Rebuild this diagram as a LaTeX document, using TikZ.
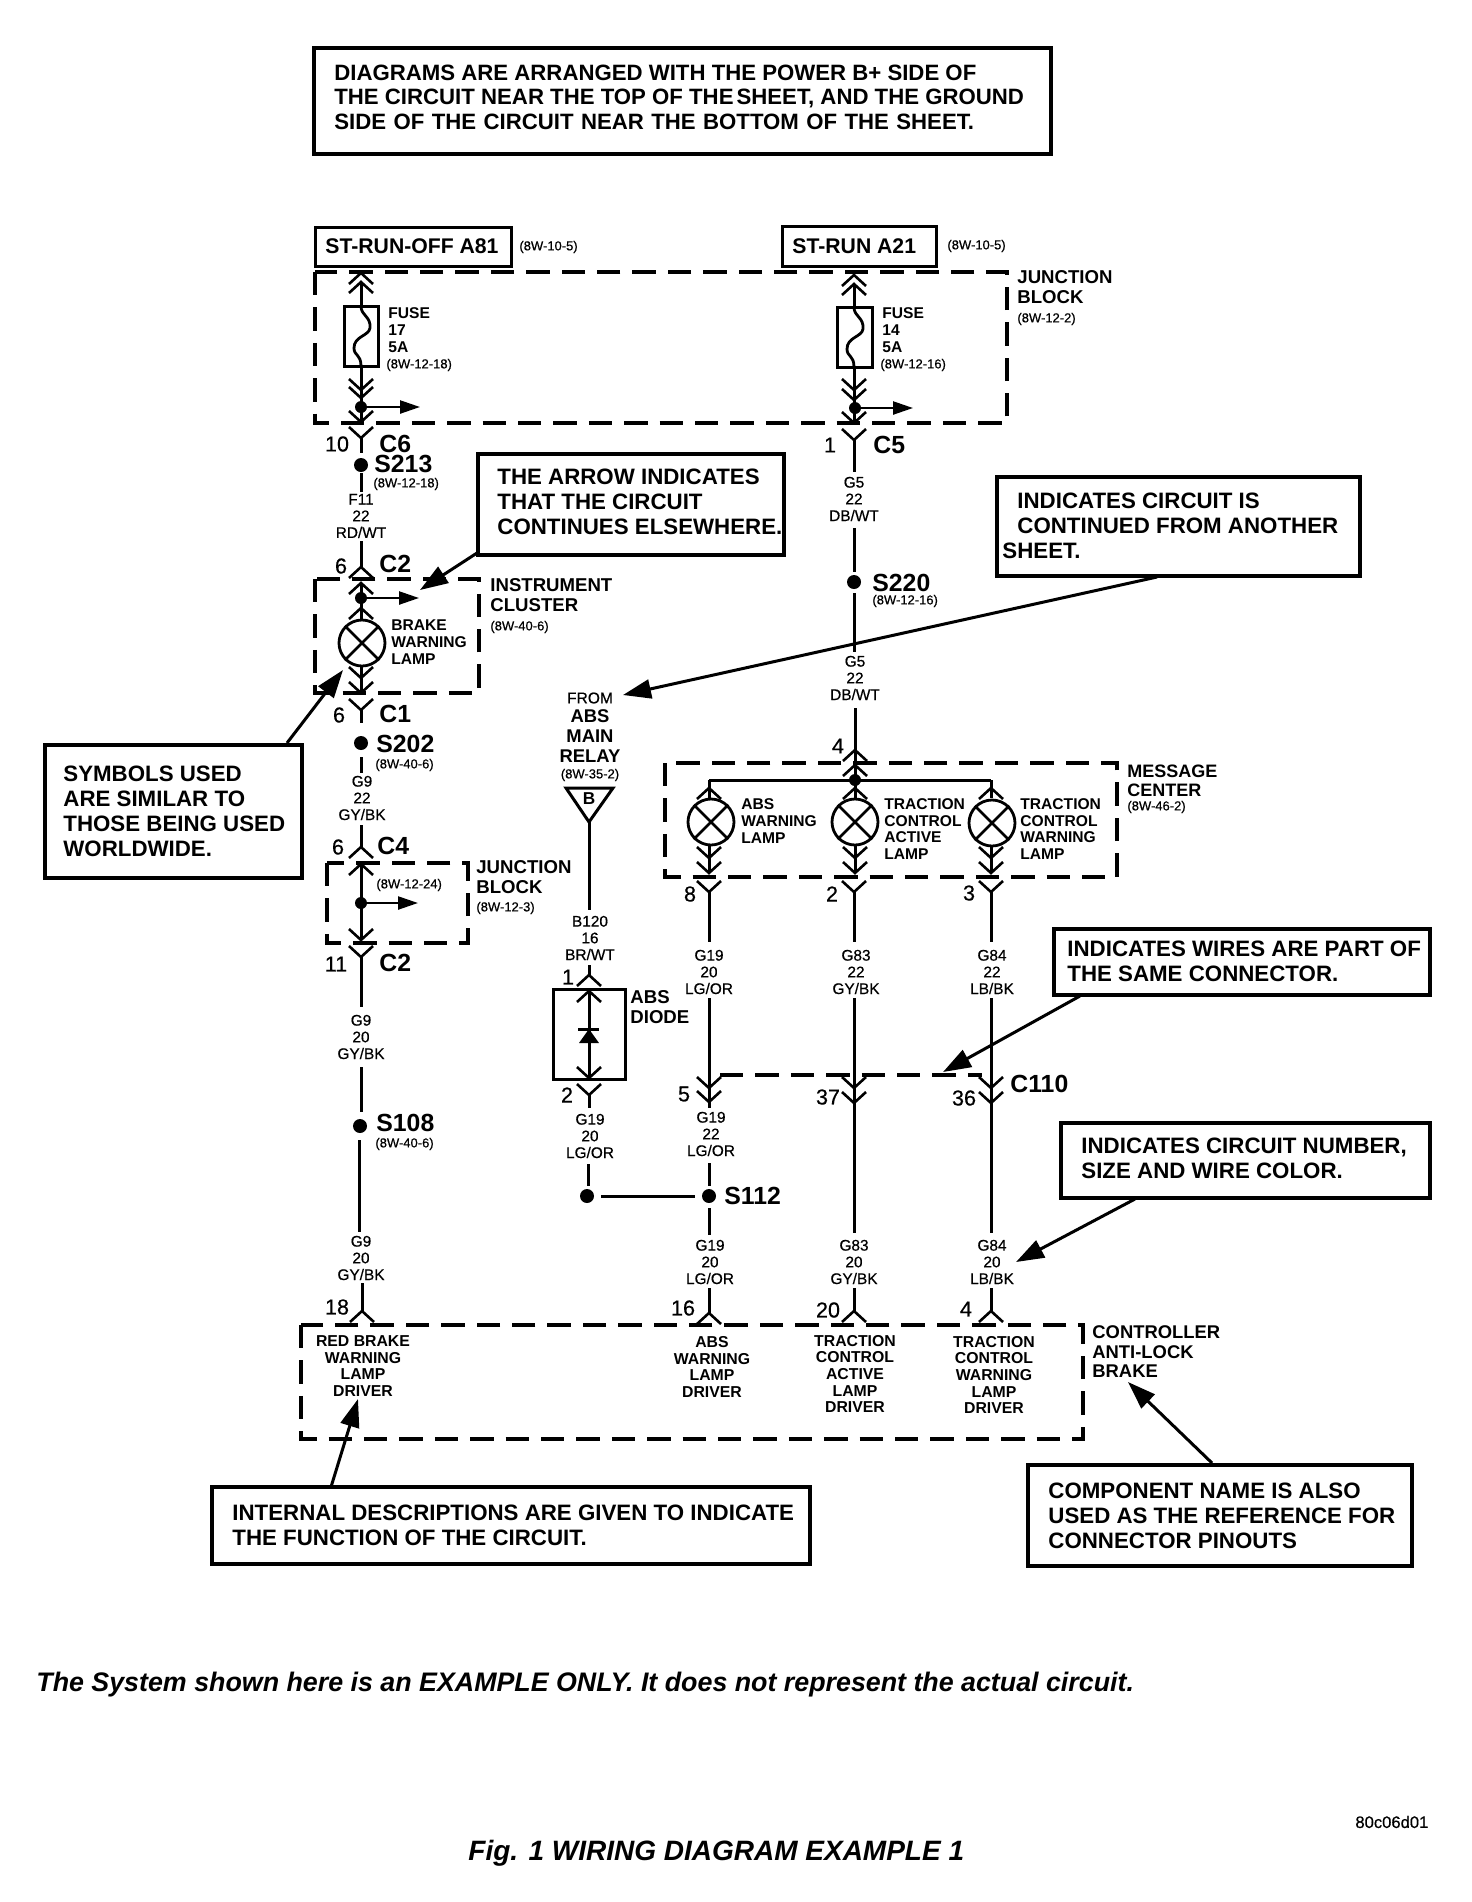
\documentclass[tikz,border=0pt]{standalone}
\usepackage{fontspec}
\setmainfont{Liberation Sans}
\newfontfamily\wfont[BoldFont={Liberation Sans},BoldFeatures={FakeBold=0.5}]{Liberation Sans}
\usetikzlibrary{arrows.meta,fit}
\tikzset{
  wire/.style={line width=1.5pt},
  conn/.style={line width=1.3pt,line join=miter},
  dashbox/.style={line width=1.55pt,dash pattern=on 11.7pt off 6pt},
  boxed/.style={draw,line width=1.7pt,inner sep=0pt,outer sep=0pt},
  plainbox/.style={draw,line width=1.5pt,inner sep=0pt,outer sep=0pt},
  leaderline/.style={line width=1.5pt,-{Triangle[length=14pt,width=9.5pt]}},
  contline/.style={line width=1.2pt,-{Triangle[length=10pt,width=6.5pt]}},
  dotn/.style={circle,fill=black,inner sep=0pt,minimum size=7pt},
  smalldot/.style={circle,fill=black,inner sep=0pt,minimum size=6pt},
  lampn/.style={circle,draw,line width=1.4pt,inner sep=0pt,minimum size=23pt},
  calltxt/.style={font=\fontsize{11.15}{12.5}\selectfont\bfseries,align=left,anchor=west,inner sep=0pt},
  complbl/.style={font=\fontsize{9.3}{9.75}\selectfont\bfseries,align=left,anchor=west,inner sep=0pt},
  smlbl/.style={font=\fontsize{7.8}{8.35}\selectfont\bfseries,align=left,anchor=west,inner sep=0pt},
  drvlbl/.style={font=\fontsize{7.9}{8.35}\selectfont\bfseries,align=center,inner sep=0pt},
  wirelbl/.style={font=\fontsize{7.7}{8.35}\selectfont\wfont\bfseries,align=center,inner sep=0pt},
  reflbl/.style={font=\fontsize{6.5}{7}\selectfont\wfont\bfseries,anchor=west,inner sep=0pt},
  pinlbl/.style={font=\fontsize{10.8}{11}\selectfont\wfont\bfseries,inner sep=0pt},
  conlbl/.style={font=\fontsize{12.4}{13}\selectfont\bfseries,anchor=west,inner sep=0pt},
  capt/.style={font=\fontsize{13.4}{14}\selectfont\bfseries\itshape,anchor=west,inner sep=0pt}
}
\newcounter{wn}
\newcommand{\wirev}[3]{\stepcounter{wn}\coordinate (w\thewn a) at (#1,#2);\coordinate (w\thewn b) at (#1,#3);\draw[wire] (w\thewn a) -- (w\thewn b);}
\newcommand{\cvee}[2]{\draw[conn] (#1-12,#2-11) -- (#1,#2) -- (#1+12,#2-11);}
\newcommand{\ccar}[2]{\draw[conn] (#1-12,#2+11) -- (#1,#2) -- (#1+12,#2+11);}
\newcommand{\callbox}[6][boxed]{\coordinate (#2-a) at (#3,#4);\coordinate (#2-b) at (#5,#6);\node[#1,fit=(#2-a)(#2-b)] (#2) {};}
\newcommand{\lampsym}[3]{\node[lampn] (#1) at (#2,#3) {};\draw[line width=1.3pt] (#1.north west) -- (#1.south east) (#1.north east) -- (#1.south west);}
\newcommand{\leadr}[5]{\coordinate (#1-s) at (#2,#3);\coordinate (#1-t) at (#4,#5);\draw[leaderline] (#1-s) -- (#1-t);}
\newcommand{\contarr}[4]{\node[smalldot] (#1) at (#2,#3) {};\coordinate (#1-t) at (#4,#3);\draw[contline] (#1) -- (#1-t);}
\newcommand{\fusecurve}[2]{\draw[line width=1.4pt] (#1,#2) .. controls (#1,#2+10) and (#1+10,#2+10) .. (#1+9,#2+22) .. controls (#1+8,#2+30) and (#1-7,#2+30) .. (#1-7,#2+42) .. controls (#1-7,#2+50) and (#1,#2+48) .. (#1,#2+60);}
\newcommand{\dashb}[5]{\coordinate (#1-nw) at (#2,#3);\coordinate (#1-se) at (#4,#5);\draw[dashbox] (#1-nw) rectangle (#1-se);}
\begin{document}
\begin{tikzpicture}[x=0.5pt,y=-0.5pt]
\useasboundingbox (0,0) rectangle (1472,1902);
\fill[white] (0,0) rectangle (1472,1902);

% ---- top note
\callbox{note}{314}{48}{1051}{154}
\node[calltxt,font=\fontsize{11.1}{12.3}\selectfont\bfseries] (notet) at (334,97) {DIAGRAMS ARE ARRANGED WITH THE POWER B+ SIDE OF\\THE CIRCUIT NEAR THE TOP OF {\spaceskip=1.5pt\relax THE SHEET,} AND THE GROUND\\{\spaceskip=3.7pt\relax SIDE OF THE CIRCUIT NEAR THE BOTTOM OF THE SHEET.}};

% ---- source boxes
\callbox[plainbox]{src1}{315}{227}{511}{266}
\node[font=\fontsize{10.6}{11}\selectfont\bfseries,anchor=west,inner sep=0pt] (src1t) at (325,246) {ST-RUN-OFF A81};
\node[reflbl] (src1r) at (519,247) {(8W-10-5)};
\callbox[plainbox]{src2}{782}{226}{936}{266}
\node[font=\fontsize{10.6}{11}\selectfont\bfseries,anchor=west,inner sep=0pt] (src2t) at (792,246) {ST-RUN A21};
\node[reflbl] (src2r) at (947,246) {(8W-10-5)};

% ---- dashed blocks
\dashb{jb1}{315}{272}{1007}{423}
\dashb{ic}{315}{579}{479}{693}
\dashb{jb3}{327}{863}{468}{943}
\dashb{mc}{665}{763}{1117}{877}
\dashb{ctl}{301}{1325}{1083}{1439}
\coordinate (same-a) at (720,1075);\coordinate (same-b) at (982,1075);
\draw[dashbox] (same-a) -- (same-b);

\node[complbl] (jb1t) at (1017,287) {JUNCTION\\BLOCK};
\node[reflbl] (jb1r) at (1017,319) {(8W-12-2)};
\node[complbl] (ict) at (490,595) {INSTRUMENT\\CLUSTER};
\node[reflbl] (icr) at (490,627) {(8W-40-6)};
\node[complbl] (jb3t) at (476,877) {JUNCTION\\BLOCK};
\node[reflbl] (jb3r) at (476,908) {(8W-12-3)};
\node[reflbl] (jb3r2) at (376,885) {(8W-12-24)};
\node[complbl,font=\fontsize{9}{9.75}\selectfont\bfseries] (mct) at (1127,781) {MESSAGE\\CENTER};
\node[reflbl] (mcr) at (1127,807) {(8W-46-2)};
\node[complbl,font=\fontsize{9.2}{9.75}\selectfont\bfseries] (ctlt) at (1092,1352) {CONTROLLER\\ANTI-LOCK\\BRAKE};

% ---- left circuit
\ccar{361}{273}\ccar{361}{282}
\wirev{361}{282}{306}
\callbox[plainbox]{f1}{344}{306}{378}{366}
\fusecurve{361}{306}
\node[smlbl] (f1t) at (388,330) {FUSE\\17\\5A};
\node[reflbl] (f1r) at (386,365) {(8W-12-18)};
\wirev{361}{366}{422}
\cvee{361}{390}\cvee{361}{398}
\contarr{d1}{361}{407}{420}
\cvee{361}{422}
\cvee{361}{438}
\wirev{361}{438}{453}
\node[pinlbl] (p10) at (337,444) {10};
\node[conlbl] (c6) at (379,444) {C6};
\node[dotn] (s213) at (361,465) {};
\node[conlbl] (s213t) at (374,464) {S213};
\node[reflbl] (s213r) at (373,484) {(8W-12-18)};
\wirev{361}{473}{492}
\node[wirelbl] (wl1) at (361,516) {F11\\22\\RD/WT};
\wirev{361}{541}{568}
\ccar{361}{567}
\node[pinlbl] (p6a) at (341,566) {6};
\node[conlbl] (c2a) at (379,564) {C2};
\ccar{361}{583}
\wirev{361}{583}{620}
\contarr{d2}{361}{598}{419}
\ccar{361}{608}
\lampsym{lp1}{362}{643}
\node[smlbl] (lp1t) at (391,642) {BRAKE\\WARNING\\LAMP};
\wirev{361}{666}{693}
\cvee{361}{678}\cvee{361}{693}
\cvee{361}{710}
\wirev{361}{710}{723}
\node[pinlbl] (p6b) at (339,715) {6};
\node[conlbl] (c1) at (379,714) {C1};
\node[dotn] (s202) at (361,743) {};
\node[conlbl] (s202t) at (376,744) {S202};
\node[reflbl] (s202r) at (375,765) {(8W-40-6)};
\wirev{361}{757}{773}
\node[wirelbl] (wl2) at (362,798) {G9\\22\\GY/BK};
\wirev{361}{825}{847}
\ccar{361}{847}
\node[pinlbl] (p6c) at (338,847) {6};
\node[conlbl] (c4) at (377,846) {C4};
\ccar{361}{864}
\wirev{361}{864}{940}
\contarr{d3}{361}{903}{418}
\cvee{361}{940}
\cvee{361}{957}
\wirev{361}{957}{1007}
\node[pinlbl] (p11) at (336,964) {11};
\node[conlbl] (c2b) at (379,963) {C2};
\node[wirelbl] (wl3) at (361,1037) {G9\\20\\GY/BK};
\wirev{361}{1067}{1112}
\node[dotn] (s108) at (360,1126) {};
\node[conlbl] (s108t) at (376,1123) {S108};
\node[reflbl] (s108r) at (375,1144) {(8W-40-6)};
\wirev{359}{1140}{1232}
\node[wirelbl] (wl4) at (361,1258) {G9\\20\\GY/BK};
\wirev{362}{1283}{1311}
\ccar{362}{1311}
\node[pinlbl] (p18) at (337,1307) {18};
\node[drvlbl] (drv1) at (363,1366) {RED BRAKE\\WARNING\\LAMP\\DRIVER};

% ---- middle circuit (feed)
\ccar{854}{275}\ccar{854}{284}
\wirev{854}{284}{307}
\callbox[plainbox]{f2}{837}{307}{872}{367}
\fusecurve{854}{307}
\node[smlbl] (f2t) at (882,330) {FUSE\\14\\5A};
\node[reflbl] (f2r) at (880,365) {(8W-12-16)};
\wirev{854}{367}{423}
\cvee{854}{390}\cvee{854}{400}
\contarr{d4}{855}{408}{913}
\cvee{854}{423}
\cvee{854}{440}
\wirev{854}{440}{472}
\node[pinlbl] (p1a) at (830,445) {1};
\node[conlbl] (c5) at (873,445) {C5};
\node[wirelbl] (wl5) at (854,499) {G5\\22\\DB/WT};
\wirev{854}{528}{572}
\node[dotn] (s220) at (854,582) {};
\node[conlbl] (s220t) at (872,583) {S220};
\node[reflbl] (s220r) at (872,601) {(8W-12-16)};
\wirev{854}{593}{652}
\node[wirelbl] (wl6) at (855,678) {G5\\22\\DB/WT};
\wirev{855}{708}{780}
\ccar{855}{750}\ccar{855}{765}
\node[pinlbl] (p4a) at (838,746) {4};
\coordinate (busl) at (709,780);\coordinate (busr) at (991,780);
\draw[wire] (busl) -- (busr);
\node[smalldot] (busd) at (855,780) {};
\wirev{709}{780}{798}\wirev{855}{780}{798}\wirev{991}{780}{798}
\ccar{709}{788}\ccar{855}{788}\ccar{991}{788}
\lampsym{lp2}{711}{822}\lampsym{lp3}{855}{822}\lampsym{lp4}{992}{823}
\node[smlbl] (lp2t) at (741,821) {ABS\\WARNING\\LAMP};
\node[smlbl] (lp3t) at (884,829) {TRACTION\\CONTROL\\ACTIVE\\LAMP};
\node[smlbl] (lp4t) at (1020,829) {TRACTION\\CONTROL\\WARNING\\LAMP};
\wirev{709}{846}{873}\wirev{855}{846}{873}\wirev{991}{846}{873}
\cvee{709}{858}\cvee{709}{873}
\cvee{855}{858}\cvee{855}{873}
\cvee{991}{858}\cvee{991}{873}
\cvee{709}{892}\cvee{854}{892}\cvee{991}{892}
\node[pinlbl] (p8) at (690,894) {8};
\node[pinlbl] (p2a) at (832,894) {2};
\node[pinlbl] (p3) at (969,893) {3};
\wirev{709}{892}{942}\wirev{854}{892}{942}\wirev{991}{892}{942}
\node[wirelbl] (wl7) at (709,972) {G19\\20\\LG/OR};
\node[wirelbl] (wl8) at (856,972) {G83\\22\\GY/BK};
\node[wirelbl] (wl9) at (992,972) {G84\\22\\LB/BK};
\wirev{709}{998}{1108}\wirev{854}{998}{1233}\wirev{991}{998}{1233}
\cvee{709}{1088}\cvee{709}{1102}
\cvee{854}{1088}\cvee{854}{1103}
\cvee{991}{1088}\cvee{991}{1103}
\node[pinlbl] (p5) at (684,1094) {5};
\node[pinlbl] (p37) at (828,1097) {37};
\node[pinlbl] (p36) at (964,1098) {36};
\node[conlbl] (c110) at (1010,1084) {C110};
\node[wirelbl] (wl10) at (711,1134) {G19\\22\\LG/OR};
\wirev{709}{1163}{1186}
\node[dotn] (s112) at (709,1196) {};
\node[conlbl] (s112t) at (724,1196) {S112};
\wirev{709}{1208}{1235}
\node[wirelbl] (wl11) at (710,1262) {G19\\20\\LG/OR};
\wirev{709}{1288}{1313}
\ccar{709}{1313}
\node[pinlbl] (p16) at (683,1308) {16};
\node[drvlbl] (drv2) at (712,1367) {ABS\\WARNING\\LAMP\\DRIVER};
\node[wirelbl] (wl12) at (854,1262) {G83\\20\\GY/BK};
\wirev{854}{1288}{1311}
\ccar{854}{1311}
\node[pinlbl] (p20) at (828,1310) {20};
\node[drvlbl] (drv3) at (855,1374) {TRACTION\\CONTROL\\ACTIVE\\LAMP\\DRIVER};
\node[wirelbl] (wl13) at (992,1262) {G84\\20\\LB/BK};
\wirev{991}{1288}{1311}
\ccar{991}{1311}
\node[pinlbl] (p4b) at (966,1309) {4};
\node[drvlbl] (drv4) at (994,1375) {TRACTION\\CONTROL\\WARNING\\LAMP\\DRIVER};

% ---- ABS relay and diode
\node[font=\fontsize{7.8}{8}\selectfont\wfont\bfseries,inner sep=0pt] (from) at (590,698) {FROM};
\node[font=\fontsize{9.2}{9.85}\selectfont\bfseries,align=center,inner sep=0pt] (rel) at (590,736) {ABS\\MAIN\\RELAY};
\node[reflbl,anchor=center] (relr) at (590,775) {(8W-35-2)};
\coordinate (trA) at (566,788);\coordinate (trB) at (613,788);\coordinate (trC) at (589,822);
\draw[wire,line join=miter] (trA) -- (trB) -- (trC) -- cycle;
\node[font=\fontsize{8.6}{9}\selectfont\bfseries,inner sep=0pt] (trl) at (589,799) {B};
\wirev{589}{822}{910}
\node[wirelbl] (wl14) at (590,938) {B120\\16\\BR/WT};
\wirev{589}{965}{975}
\ccar{589}{975}
\node[pinlbl] (p1b) at (568,977) {1};
\callbox[plainbox]{diode}{553}{989}{625}{1079}
\ccar{589}{991}
\wirev{589}{991}{1078}
\cvee{589}{1078}
\draw[line width=1.5pt] (578,1029) -- (599,1029);
\fill (589,1029) -- (599,1043) -- (579,1043) -- cycle;
\node[complbl,font=\fontsize{9.3}{9.75}\selectfont\bfseries] (dt) at (630,1007) {ABS\\DIODE};
\cvee{589}{1095}
\wirev{589}{1095}{1108}
\node[pinlbl] (p2b) at (567,1095) {2};
\node[wirelbl] (wl15) at (590,1136) {G19\\20\\LG/OR};
\wirev{588}{1164}{1186}
\node[dotn] (s112b) at (587,1196) {};
\draw[wire,shorten <=3.5pt,shorten >=3.5pt] (s112b) -- (s112);

% ---- callouts
\callbox{cArrow}{478}{454}{784}{555}
\node[calltxt] (cArrowt) at (497,502) {THE ARROW INDICATES\\THAT THE CIRCUIT\\CONTINUES ELSEWHERE.};
\leadr{lArrow}{477}{553}{420}{590}

\callbox{cSheet}{997}{477}{1360}{576}
\node[calltxt] (cSheett) at (1002,526) {\hspace*{7.5pt}INDICATES CIRCUIT IS\\\hspace*{7.5pt}CONTINUED FROM ANOTHER\\SHEET.};
\leadr{lSheet}{1157}{577}{623}{695}

\callbox{cSym}{45}{745}{302}{878}
\node[calltxt] (cSymt) at (63,811) {SYMBOLS USED\\ARE SIMILAR TO\\THOSE BEING USED\\WORLDWIDE.};
\leadr{lSym}{287}{743}{343}{670}

\callbox{cWires}{1054}{929}{1430}{995}
\node[calltxt] (cWirest) at (1067,961) {INDICATES WIRES ARE PART OF\\THE SAME CONNECTOR.};
\leadr{lWires}{1080}{996}{943}{1072}

\callbox{cNum}{1061}{1123}{1430}{1198}
\node[calltxt] (cNumt) at (1081,1158) {INDICATES CIRCUIT NUMBER,\\SIZE AND WIRE COLOR.};
\leadr{lNum}{1135}{1199}{1016}{1262}

\callbox{cName}{1028}{1465}{1412}{1566}
\node[calltxt] (cNamet) at (1048,1516) {COMPONENT NAME IS ALSO\\USED AS THE REFERENCE FOR\\CONNECTOR PINOUTS};
\leadr{lName}{1212}{1463}{1128}{1382}

\callbox{cInt}{212}{1487}{810}{1564}
\node[calltxt] (cIntt) at (232,1525) {INTERNAL DESCRIPTIONS ARE GIVEN TO INDICATE\\THE FUNCTION OF THE CIRCUIT.};
\leadr{lInt}{331}{1487}{358}{1399}

% ---- captions
\node[capt] (capA) at (36,1685) {The System shown here is an EXAMPLE ONLY. It does not represent the actual circuit.};
\node[capt,font=\fontsize{14}{15}\selectfont\bfseries\itshape] (capB) at (468,1853) {Fig. 1 WIRING DIAGRAM EXAMPLE 1};
\node[font=\fontsize{8.3}{9}\selectfont\wfont\bfseries,anchor=west,inner sep=0pt] (code) at (1355,1822) {80c06d01};
\end{tikzpicture}
\end{document}
